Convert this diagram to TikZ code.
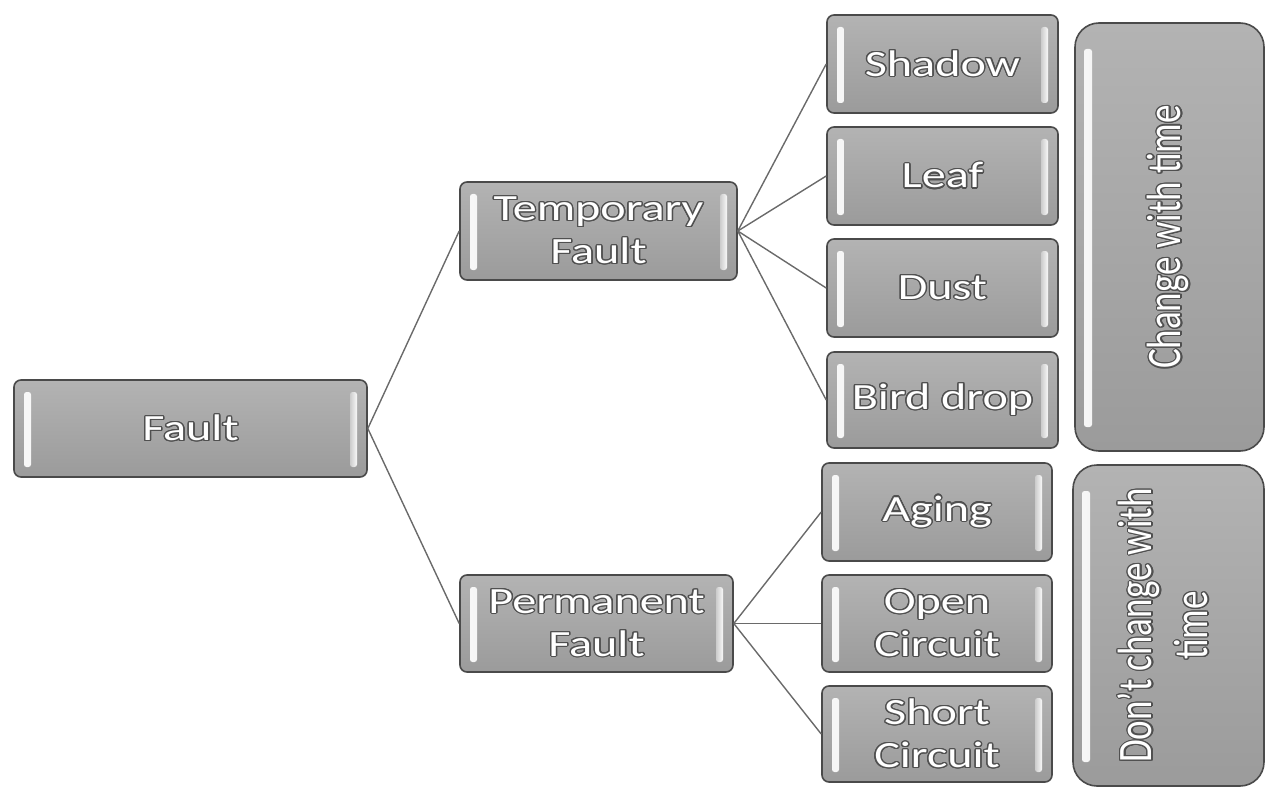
\documentclass[tikz,border=0pt]{standalone}
\usepackage{fontspec}
\setmainfont{Carlito}
\usepackage{graphicx}
\usepackage[copies]{contour}
\contourlength{1.1pt}
\contournumber{16}
\usetikzlibrary{shadings}

\definecolor{boxedge}{HTML}{4A4A4A}
\definecolor{boxtop}{HTML}{B3B3B3}
\definecolor{boxbot}{HTML}{9B9B9B}
\definecolor{halo}{HTML}{505050}
\definecolor{wire}{HTML}{6A6A6A}

% one line of stretched, outlined white lettering
\newcommand\hlbl[1]{\scalebox{1.3}[1]{\contour{halo}{#1}}}
% a column of lines set upright, stretched, then turned a quarter turn
\newcommand\vtext[1]{\rotatebox{90}{\scalebox{1}[1.3]{\begin{tabular}{@{}c@{}}#1\end{tabular}}}}
\newcommand\vlbl[1]{\contour{halo}{#1}}

\tikzset{
  bar/.style={rounded corners=2.5pt, left color=white!95!gray, right color=white!60!gray},
  rbar/.style={rounded corners=2.5pt, left color=white!60!gray, right color=white!95!gray},
  bevel/.style={
    path picture={
      \shade[bar]
        ([xshift=10pt,yshift=-12pt]path picture bounding box.north west)
        rectangle ([xshift=17pt,yshift=10pt]path picture bounding box.south west);
      \shade[rbar]
        ([xshift=-17pt,yshift=-12pt]path picture bounding box.north east)
        rectangle ([xshift=-10pt,yshift=10pt]path picture bounding box.south east);
    }},
  tile/.style={rectangle, rounded corners=7pt, draw=boxedge, line width=1.6pt,
    top color=boxtop, bottom color=boxbot, text=white, align=center,
    font=\fontsize{37}{43}\selectfont, inner sep=0pt, bevel},
  panel/.style={rectangle, rounded corners=24pt, draw=boxedge, line width=1.6pt,
    top color=boxtop, bottom color=boxbot, text=white, align=center,
    font=\fontsize{37}{43}\selectfont, inner sep=0pt,
    path picture={
      \shade[bar]
        ([xshift=9pt,yshift=-26pt]path picture bounding box.north west)
        rectangle ([xshift=17pt,yshift=24pt]path picture bounding box.south west);
    }},
  conn/.style={draw=wire, line width=1.4pt},
}

\begin{document}
\begin{tikzpicture}[x=1pt,y=-1pt]
\useasboundingbox (0,0) rectangle (1267,789);

% root and the two fault kinds
\node[tile, minimum width=353pt, minimum height=97pt] (fault) at (190.5,428.5) {\hlbl{Fault}};
\node[tile, minimum width=277pt, minimum height=98pt] (temp) at (598.5,231) {\hlbl{Temporary}\\\hlbl{Fault}};
\node[tile, minimum width=273pt, minimum height=97pt] (perm) at (596.5,623.5) {\hlbl{Permanent}\\\hlbl{Fault}};

% temporary causes
\node[tile, minimum width=231pt, minimum height=98pt] (shadow) at (942.5,64) {\hlbl{Shadow}};
\node[tile, minimum width=231pt, minimum height=98pt] (leaf) at (942.5,176) {\hlbl{Leaf}};
\node[tile, minimum width=231pt, minimum height=98pt] (dust) at (942.5,288) {\hlbl{Dust}};
\node[tile, minimum width=231pt, minimum height=96pt] (bird) at (942.5,400) {\hlbl{Bird drop}};

% permanent causes
\node[tile, minimum width=230pt, minimum height=98pt] (aging) at (937,512) {\hlbl{Aging}};
\node[tile, minimum width=230pt, minimum height=97pt] (open) at (937,623.5) {\hlbl{Open}\\\hlbl{Circuit}};
\node[tile, minimum width=230pt, minimum height=96pt] (short) at (937,734) {\hlbl{Short}\\\hlbl{Circuit}};

% side panels
\node[panel, minimum width=189pt, minimum height=428pt] (vary) at (1169.5,237) {\vtext{\vlbl{Change with time}}};
\node[panel, minimum width=191pt, minimum height=321pt] (fixed) at (1168.5,625.5) {\vtext{\vlbl{Don't change with}\\\vlbl{time}}};

% connectors
\draw[conn] (fault.east) -- (temp.west);
\draw[conn] (fault.east) -- (perm.west);
\foreach \c in {shadow,leaf,dust,bird} \draw[conn] (temp.east) -- (\c.west);
\foreach \c in {aging,open,short} \draw[conn] (perm.east) -- (\c.west);
\end{tikzpicture}
\end{document}
